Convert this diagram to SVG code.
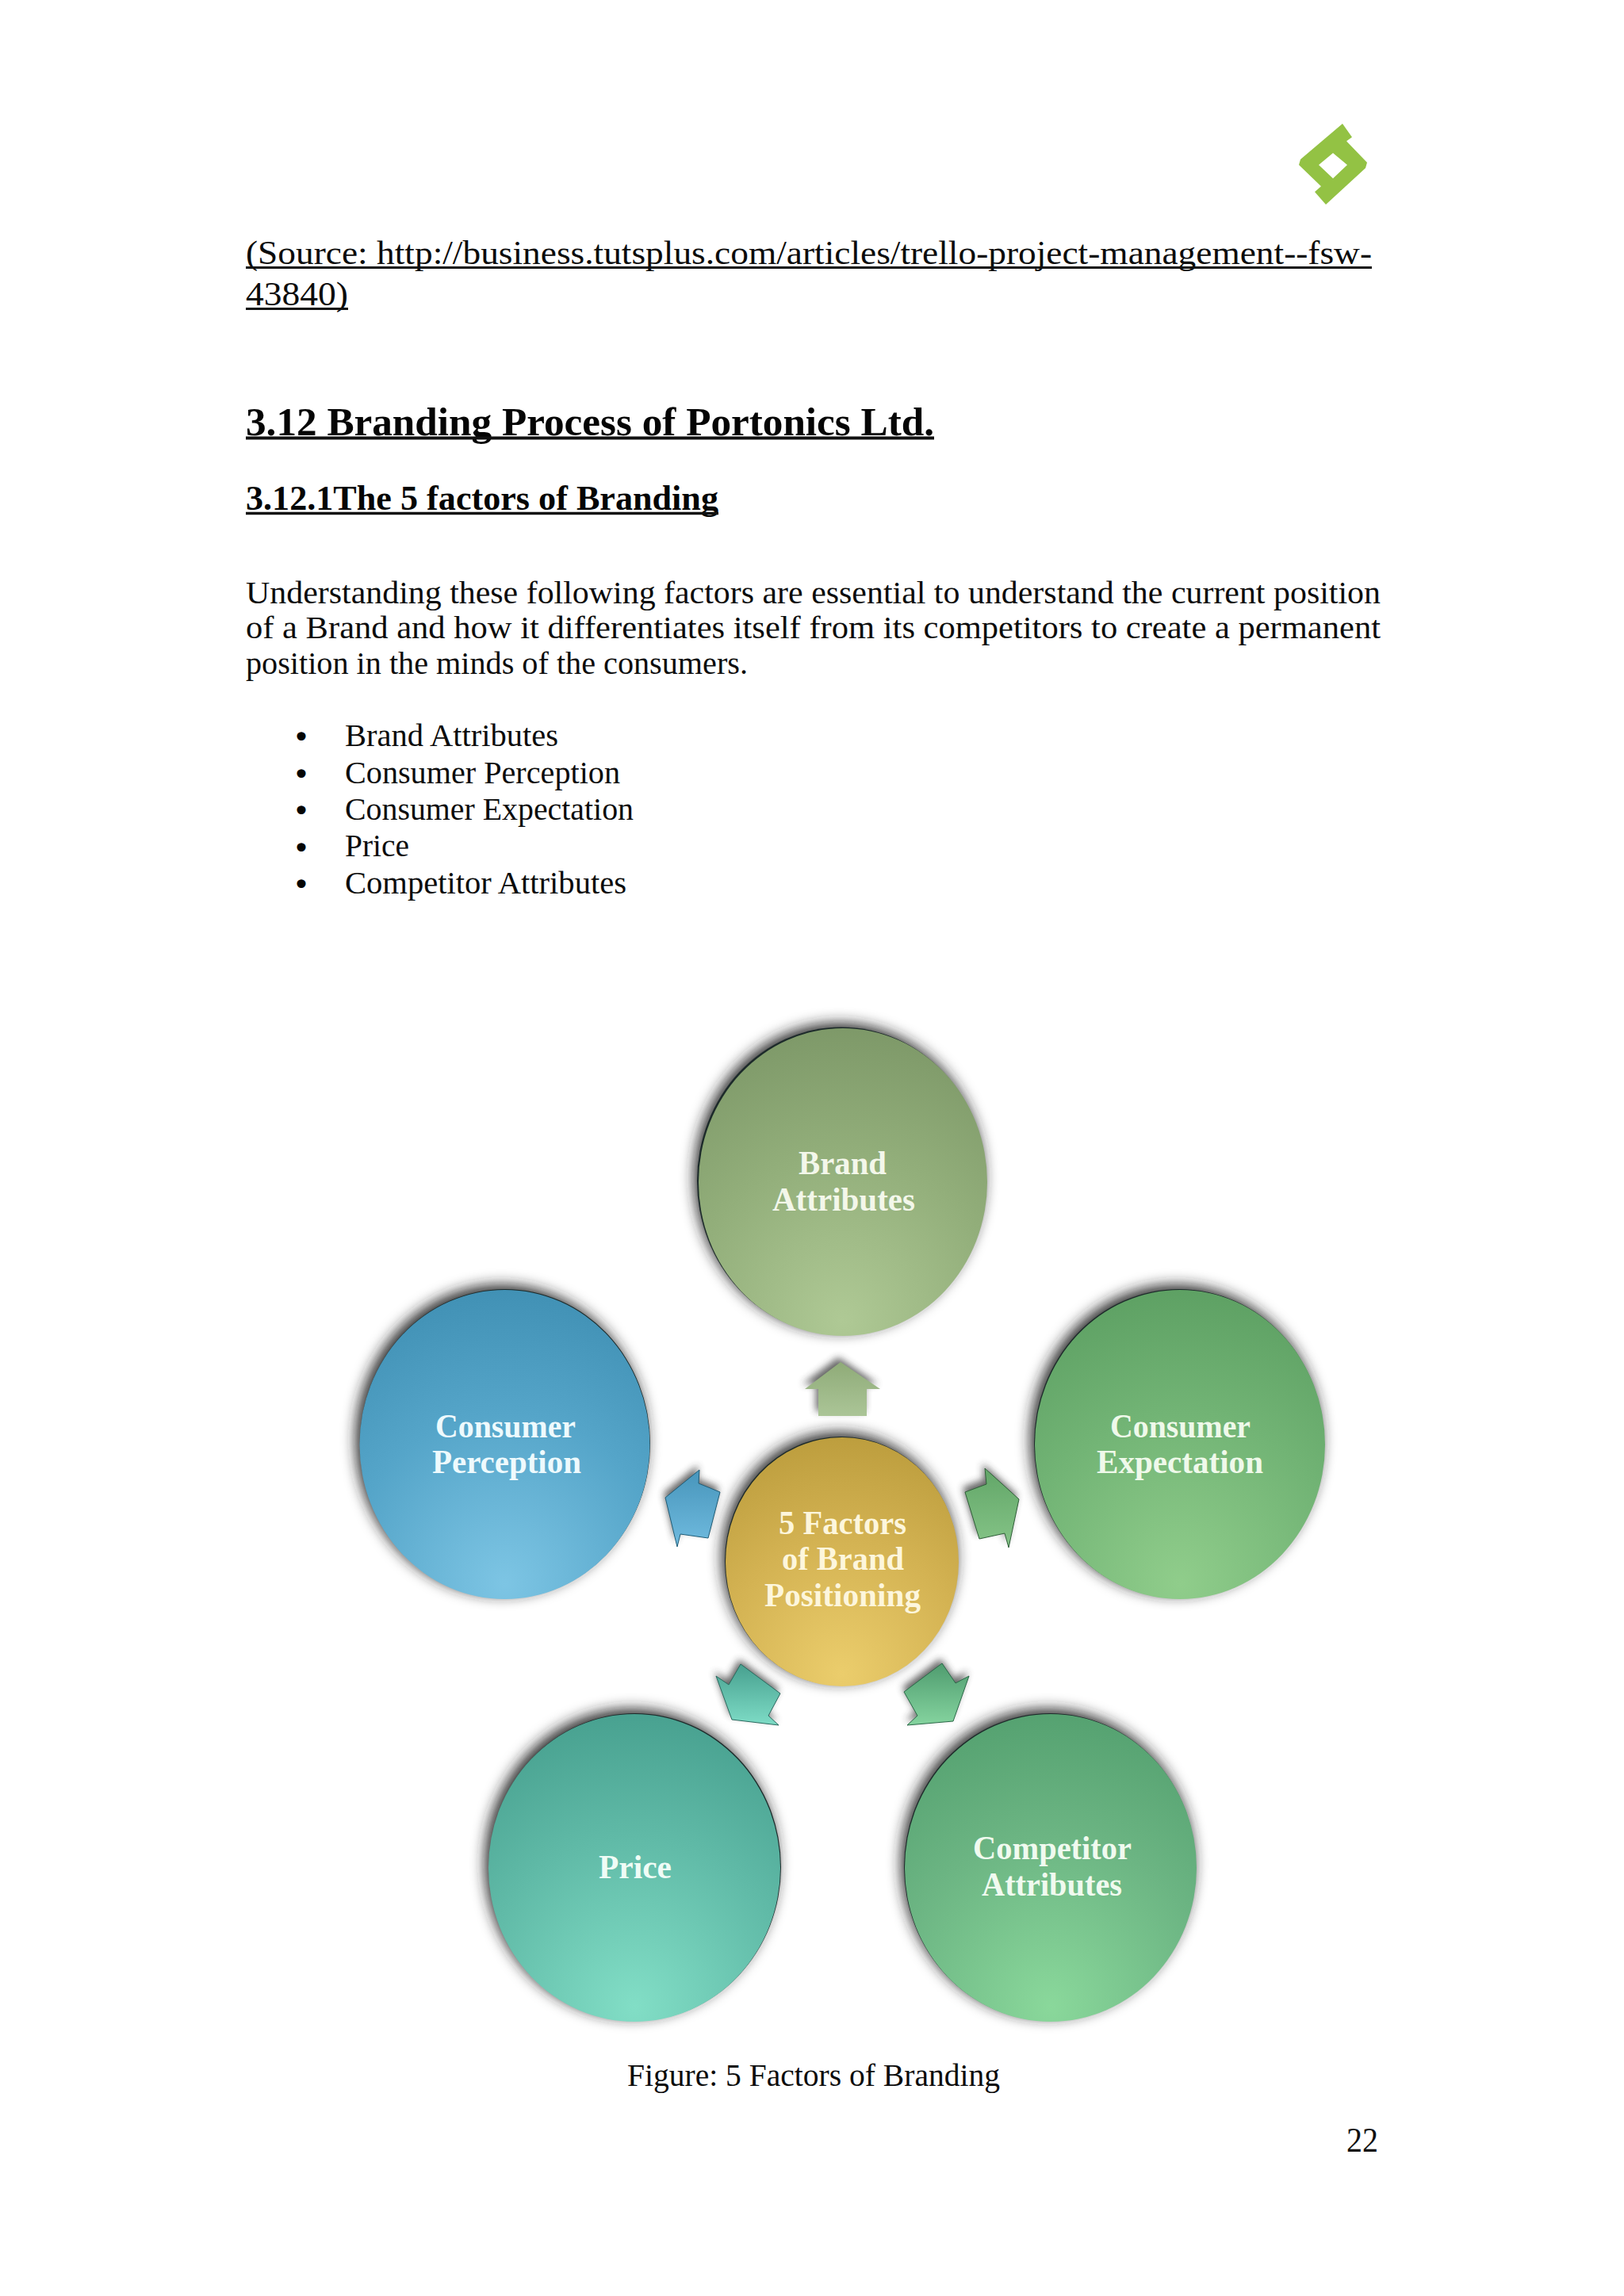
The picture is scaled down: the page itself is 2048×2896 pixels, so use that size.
<svg xmlns="http://www.w3.org/2000/svg" width="2048" height="2896" viewBox="0 0 2048 2896">
<style>
.b{font-family:"Liberation Serif",serif;font-size:40px;fill:#0c0c0c}
.s{font-family:"Liberation Serif",serif;font-size:43px;fill:#0c0c0c}
.h{font-family:"Liberation Serif",serif;font-weight:bold;fill:#050505}
.n{font-family:"Liberation Serif",serif;font-weight:bold;font-size:42px}
.dot{font-family:"DejaVu Sans",sans-serif;font-size:38px;fill:#050505;text-anchor:middle}
.u{stroke:#111}
.sh{fill:#222;filter:url(#blur)}
.ash{fill:#333;filter:url(#blur2);opacity:.75}
.rim{fill:#1c2a2a}
</style>
<defs>
<filter id="blur" x="-20%" y="-20%" width="140%" height="140%"><feGaussianBlur stdDeviation="9"/></filter>
<filter id="blur2" x="-40%" y="-40%" width="180%" height="180%"><feGaussianBlur stdDeviation="5"/></filter>
<radialGradient id="gBrand" cx=".5" cy=".95" r="1.1"><stop offset="0" stop-color="#afc995"/><stop offset=".5" stop-color="#92ae7a"/><stop offset=".9" stop-color="#7c9767"/></radialGradient>
<radialGradient id="gPer" cx=".5" cy=".95" r="1.1"><stop offset="0" stop-color="#7dc5e4"/><stop offset=".5" stop-color="#55a5c9"/><stop offset=".9" stop-color="#3f8fb3"/></radialGradient>
<radialGradient id="gExp" cx=".5" cy=".95" r="1.1"><stop offset="0" stop-color="#90cd8b"/><stop offset=".5" stop-color="#72b475"/><stop offset=".9" stop-color="#5c9f62"/></radialGradient>
<radialGradient id="gPri" cx=".5" cy=".95" r="1.1"><stop offset="0" stop-color="#82dec6"/><stop offset=".5" stop-color="#60baa7"/><stop offset=".9" stop-color="#469f8e"/></radialGradient>
<radialGradient id="gCom" cx=".5" cy=".95" r="1.1"><stop offset="0" stop-color="#8ad89b"/><stop offset=".5" stop-color="#6cb583"/><stop offset=".9" stop-color="#53a06f"/></radialGradient>
<radialGradient id="gCen" cx=".5" cy=".95" r="1.1"><stop offset="0" stop-color="#ebcd6c"/><stop offset=".5" stop-color="#d3b252"/><stop offset=".9" stop-color="#bb9c3c"/></radialGradient>
<linearGradient id="aBrand" x1="0" y1="0" x2="0" y2="1"><stop offset="0" stop-color="#8fab78"/><stop offset="1" stop-color="#abc597"/></linearGradient>
<linearGradient id="aPer" x1="0" y1="0" x2="0" y2="1"><stop offset="0" stop-color="#4795bb"/><stop offset="1" stop-color="#70bbdf"/></linearGradient>
<linearGradient id="aExp" x1="0" y1="0" x2="0" y2="1"><stop offset="0" stop-color="#62a668"/><stop offset="1" stop-color="#85c487"/></linearGradient>
<linearGradient id="aPri" x1="0" y1="0" x2="0" y2="1"><stop offset="0" stop-color="#47a08f"/><stop offset="1" stop-color="#7edcc6"/></linearGradient>
<linearGradient id="aCom" x1="0" y1="0" x2="0" y2="1"><stop offset="0" stop-color="#4f9c6f"/><stop offset="1" stop-color="#85d49f"/></linearGradient>
</defs>
<rect width="2048" height="2896" fill="#fff"/>
<g id="logo" transform="translate(1,0)">
<path fill="#93c244" fill-rule="evenodd" d="M1692 156L1704 173L1697 178L1723 205L1721 212L1671 258L1657 242L1665 235L1637 208L1639 201ZM1680 193L1662 208L1680 225L1698 208Z"/>
</g>
<g id="page-text">
<text class="s" x="310" y="333" textLength="1420" lengthAdjust="spacingAndGlyphs">(Source: http://business.tutsplus.com/articles/trello-project-management--fsw-</text>
<line class="u" x1="310" y1="337.500" x2="1730" y2="337.500" stroke-width="3"/>
<text class="s" x="310" y="385" textLength="129" lengthAdjust="spacingAndGlyphs">43840)</text>
<line class="u" x1="310" y1="389.500" x2="439" y2="389.500" stroke-width="3"/>
<text class="h" font-size="50" x="310" y="549" textLength="868" lengthAdjust="spacingAndGlyphs">3.12 Branding Process of Portonics Ltd.</text>
<line class="u" x1="310" y1="552.500" x2="1178" y2="552.500" stroke-width="4"/>
<text class="h" font-size="44" x="310" y="643" textLength="596" lengthAdjust="spacingAndGlyphs">3.12.1The 5 factors of Branding</text>
<line class="u" x1="310" y1="647.500" x2="906" y2="647.500" stroke-width="3.500"/>
<text class="b" x="310" y="761" textLength="1431" lengthAdjust="spacingAndGlyphs">Understanding these following factors are essential to understand the current position</text>
<text class="b" x="310" y="805" textLength="1431" lengthAdjust="spacingAndGlyphs">of a Brand and how it differentiates itself from its competitors to create a permanent</text>
<text class="b" x="310" y="850" textLength="633" lengthAdjust="spacingAndGlyphs">position in the minds of the consumers.</text>
<text class="dot" x="380" y="943">•</text>
<text class="dot" x="380" y="990">•</text>
<text class="dot" x="380" y="1036">•</text>
<text class="dot" x="380" y="1083">•</text>
<text class="dot" x="380" y="1129">•</text>
<text class="b" x="435" y="941" textLength="269" lengthAdjust="spacingAndGlyphs">Brand Attributes</text>
<text class="b" x="435" y="988" textLength="347" lengthAdjust="spacingAndGlyphs">Consumer Perception</text>
<text class="b" x="435" y="1034" textLength="364" lengthAdjust="spacingAndGlyphs">Consumer Expectation</text>
<text class="b" x="435" y="1080" textLength="81" lengthAdjust="spacingAndGlyphs">Price</text>
<text class="b" x="435" y="1127" textLength="355" lengthAdjust="spacingAndGlyphs">Competitor Attributes</text>
<text class="b" x="791" y="2631" textLength="470" lengthAdjust="spacingAndGlyphs">Figure: 5 Factors of Branding</text>
<text x="1698" y="2714" font-family="Liberation Serif, serif" font-size="44" fill="#111" textLength="40" lengthAdjust="spacingAndGlyphs">22</text>
</g>
<g id="connectors">
<path class="ash" transform="translate(-3,-6)" d="M1060 1718L1110 1752L1093 1752L1093 1786L1032 1786L1032 1752L1015 1752Z"/>
<path fill="url(#aBrand)" d="M1060 1718L1110 1752L1093 1752L1093 1786L1032 1786L1032 1752L1015 1752Z"/>
<path class="ash" transform="translate(-2,-6)" d="M839 1889L882 1854L881 1871L908 1882L893 1940L858 1935L854 1951Z"/>
<path fill="url(#aPer)" stroke="#1f5d78" stroke-width="1" d="M839 1889L882 1854L881 1871L908 1882L893 1940L858 1935L854 1951Z"/>
<path class="ash" transform="translate(-3,-6)" d="M1242 1852L1285 1891L1272 1952L1267 1934L1235 1941L1217 1882L1244 1872Z"/>
<path fill="url(#aExp)" stroke="#2f5f38" stroke-width="1" d="M1242 1852L1285 1891L1272 1952L1267 1934L1235 1941L1217 1882L1244 1872Z"/>
<path class="ash" transform="translate(-2,-6)" d="M903 2114L919 2125L934 2099L984 2136L969 2164L982 2176L923 2169Z"/>
<path fill="url(#aPri)" stroke="#2a6a5f" stroke-width="1" d="M903 2114L919 2125L934 2099L984 2136L969 2164L982 2176L923 2169Z"/>
<path class="ash" transform="translate(-2,-6)" d="M1222 2114L1202 2171L1144 2176L1157 2164L1140 2134L1188 2098L1205 2123Z"/>
<path fill="url(#aCom)" stroke="#2a6a48" stroke-width="1" d="M1222 2114L1202 2171L1144 2176L1157 2164L1140 2134L1188 2098L1205 2123Z"/>
</g>
<g id="node-brand">
<ellipse class="sh" cx="1058" cy="1485" rx="182" ry="194"/>
<ellipse class="rim" cx="1061" cy="1489.500" rx="182" ry="194"/>
<ellipse cx="1063" cy="1491" rx="182" ry="194" fill="url(#gBrand)"/>
<text class="n" fill="#f3f7ea" x="1007" y="1481" textLength="111" lengthAdjust="spacingAndGlyphs">Brand</text>
<text class="n" fill="#f3f7ea" x="974" y="1527" textLength="180" lengthAdjust="spacingAndGlyphs">Attributes</text>
</g>
<g id="node-perception">
<ellipse class="sh" cx="632" cy="1816" rx="183" ry="195"/>
<ellipse class="rim" cx="637" cy="1821" rx="183" ry="195"/>
<ellipse cx="636.500" cy="1822" rx="183" ry="195" fill="url(#gPer)"/>
<text class="n" fill="#eefafd" x="549" y="1813" textLength="177" lengthAdjust="spacingAndGlyphs">Consumer</text>
<text class="n" fill="#eefafd" x="545" y="1858" textLength="188" lengthAdjust="spacingAndGlyphs">Perception</text>
</g>
<g id="node-expectation">
<ellipse class="sh" cx="1483" cy="1816" rx="183" ry="195"/>
<ellipse class="rim" cx="1487" cy="1821" rx="183" ry="195"/>
<ellipse cx="1488" cy="1822" rx="183" ry="195" fill="url(#gExp)"/>
<text class="n" fill="#eff9ea" x="1400" y="1813" textLength="177" lengthAdjust="spacingAndGlyphs">Consumer</text>
<text class="n" fill="#eff9ea" x="1383" y="1858" textLength="210" lengthAdjust="spacingAndGlyphs">Expectation</text>
</g>
<g id="node-price">
<ellipse class="sh" cx="796" cy="2350" rx="184" ry="194"/>
<ellipse class="rim" cx="801" cy="2355" rx="184" ry="194"/>
<ellipse cx="800" cy="2356" rx="184" ry="194" fill="url(#gPri)"/>
<text class="n" fill="#effcf6" x="755" y="2369" textLength="92" lengthAdjust="spacingAndGlyphs">Price</text>
</g>
<g id="node-competitor">
<ellipse class="sh" cx="1321" cy="2350" rx="184" ry="194"/>
<ellipse class="rim" cx="1324" cy="2355" rx="184" ry="194"/>
<ellipse cx="1325" cy="2356" rx="184" ry="194" fill="url(#gCom)"/>
<text class="n" fill="#f0faef" x="1227" y="2345" textLength="200" lengthAdjust="spacingAndGlyphs">Competitor</text>
<text class="n" fill="#f0faef" x="1238" y="2391" textLength="177" lengthAdjust="spacingAndGlyphs">Attributes</text>
</g>
<g id="node-center">
<ellipse class="sh" cx="1058" cy="1964" rx="147" ry="157"/>
<ellipse class="rim" cx="1061" cy="1969" rx="147" ry="157"/>
<ellipse cx="1062" cy="1970" rx="147" ry="157" fill="url(#gCen)"/>
<text class="n" fill="#fdf6dc" x="982" y="1935" textLength="161" lengthAdjust="spacingAndGlyphs">5 Factors</text>
<text class="n" fill="#fdf6dc" x="986" y="1980" textLength="154" lengthAdjust="spacingAndGlyphs">of Brand</text>
<text class="n" fill="#fdf6dc" x="964" y="2026" textLength="197" lengthAdjust="spacingAndGlyphs">Positioning</text>
</g>
</svg>
